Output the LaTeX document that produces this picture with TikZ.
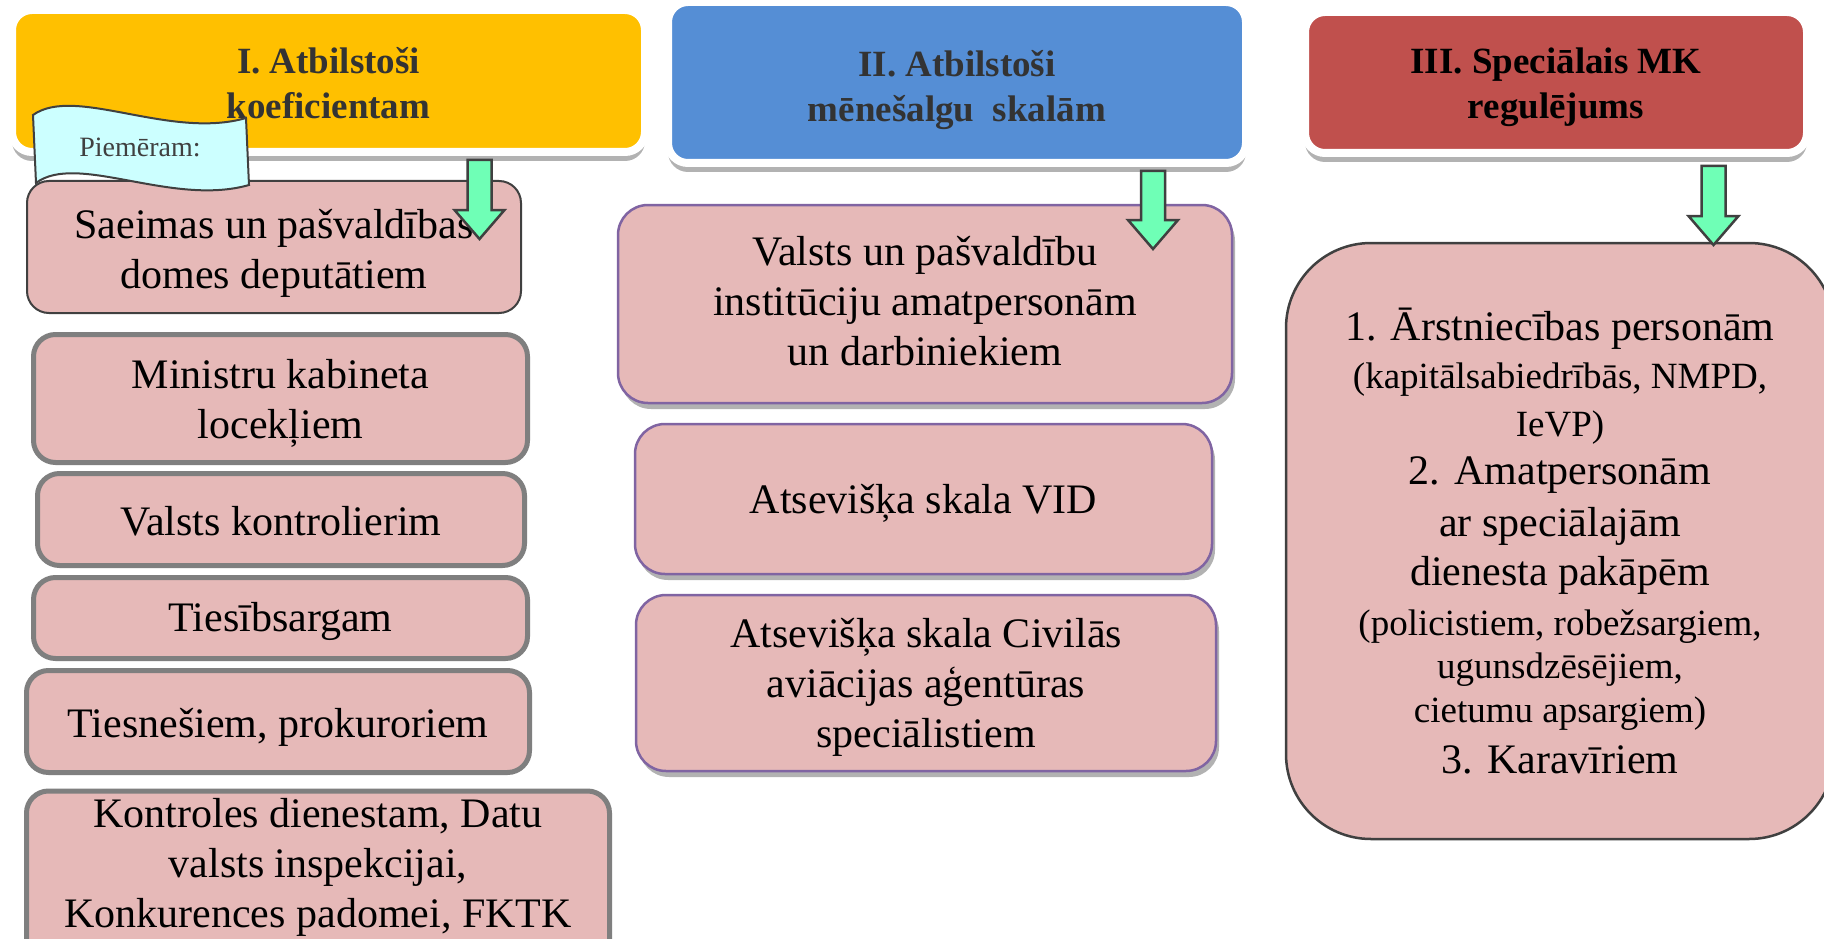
\documentclass[tikz,border=0pt]{standalone}
\usepackage{fontspec}
\setmainfont{Liberation Serif}
\usetikzlibrary{shadows,calc}

\definecolor{hdryellow}{HTML}{FFC000}
\definecolor{hdrblue}{HTML}{558ED5}
\definecolor{hdrred}{HTML}{C0504D}
\definecolor{boxpink}{HTML}{E6B9B8}
\definecolor{arrowgreen}{HTML}{6FFFB6}
\definecolor{flagcyan}{HTML}{CCFFFF}
\definecolor{midpurple}{HTML}{8064A2}
\definecolor{framegray}{HTML}{7F7F7F}
\definecolor{darkline}{HTML}{404040}
\definecolor{headtext}{HTML}{333333}

\newcommand{\bodyfont}{\fontsize{42}{50}\selectfont}
\newcommand{\smallbody}{\fontsize{37}{44}\selectfont}
\newcommand{\headfont}{\fontsize{37}{45}\selectfont\bfseries}

% green block arrow from a top point down to a tip
\newcommand{\greenarrow}[2]{%
  \filldraw[fill=arrowgreen, draw=darkline, line width=2.5pt, line join=miter]
    let \p1=(#1), \p2=(#2) in
    (\x1-12pt,\y1) -- (\x1+12pt,\y1) -- (\x1+12pt,\y2+29pt) -- (\x1+25pt,\y2+29pt)
    -- (\x2,\y2) -- (\x1-25pt,\y2+29pt) -- (\x1-12pt,\y2+29pt) -- cycle;}

\tikzset{
  header/.style={rectangle, rounded corners=20pt, draw=white, line width=8pt,
    inner sep=0pt, align=center, font=\headfont,
    drop shadow={shadow xshift=0pt, shadow yshift=-9pt, opacity=0.3, fill=black}},
  leftbox/.style={rectangle, rounded corners=22pt, fill=boxpink, draw=framegray,
    line width=5pt, inner sep=0pt, align=center, font=\bodyfont},
  topbox/.style={leftbox, draw=darkline, line width=2pt},
  midbox/.style={rectangle, rounded corners=30pt, fill=boxpink, draw=midpurple,
    line width=2.5pt, inner sep=0pt, align=center, font=\bodyfont,
    drop shadow={shadow xshift=3pt, shadow yshift=-6pt, opacity=0.3, fill=black}},
  bigbox/.style={rectangle, rounded corners=85pt, fill=boxpink, draw=darkline,
    line width=2.5pt, inner sep=0pt, align=center, font=\fontsize{42}{48}\selectfont}
}

\begin{document}
\begin{tikzpicture}[x=1pt, y=-1pt]
    \useasboundingbox (0,0) rectangle (1824,939);
    \clip (0,0) rectangle (1824,939);
    \fill[white] (0,0) rectangle (1824,939);

    % Headers
    \node[header, fill=hdryellow, text=headtext, minimum width=633pt, minimum height=142pt,
        text height=74.8pt] (hdrI) at (328.5,81) {I. Atbilstoši\\koeficientam};
    \node[header, fill=hdrblue, text=headtext, minimum width=578pt, minimum height=161pt,
        text height=86pt] (hdrII) at (957,82.5) {II. Atbilstoši\\mēnešalgu\ \ skalām};
    \node[header, fill=hdrred, text=black, minimum width=502pt, minimum height=141pt,
        text height=80.6pt] (hdrIII) at (1556,82.5) {III. Speciālais MK\\regulējums};

    % Left column
    \node[topbox, minimum width=494pt, minimum height=132pt, text height=92.7pt]
        (saeima) at (274,247) {Saeimas un pašvaldības\\domes deputātiem};
    \node[leftbox, minimum width=494pt, minimum height=128pt, text height=88.7pt]
        (ministri) at (280.5,398.5) {Ministru kabineta\\locekļiem};
    \node[leftbox, minimum width=487pt, minimum height=92pt, text height=32.7pt]
        (kontrolieris) at (281,519.5) {Valsts kontrolierim};
    \node[leftbox, minimum width=494pt, minimum height=81pt, text height=35.7pt]
        (tiesibsargs) at (280.5,618) {Tiesībsargam};
    \node[leftbox, minimum width=503pt, minimum height=102pt, text height=40.3pt]
        (tiesnesi) at (278,721.5) {Tiesnešiem, prokuroriem};
    \node[leftbox, anchor=north, minimum width=583pt, inner ysep=7.5pt, text depth=45pt]
        (kontrole) at (318,788.5) {Kontroles dienestam, Datu\\valsts inspekcijai,\\Konkurences padomei, FKTK};

    % Flag with example label
    \filldraw[fill=flagcyan, draw=darkline, line width=2pt]
        (33,115) .. controls (75,85) and (170,140) .. (246,118) -- (249,185)
        .. controls (172,207) and (77,152) .. (36,183) -- cycle;
    \node[anchor=base, text=darkline, font=\fontsize{28}{34}\selectfont]
        (piemeram) at (140,157) {Piemēram:};

    % Middle column
    \node[midbox, minimum width=614pt, minimum height=198pt, text depth=7pt]
        (amatpers) at (925,304) {Valsts un pašvaldību\\institūciju amatpersonām\\un darbiniekiem};
    \node[midbox, minimum width=577pt, minimum height=150pt, text height=38.5pt]
        (vid) at (923.5,499) {Atsevišķa skala VID};
    \node[midbox, minimum width=580pt, minimum height=176pt, text height=138pt]
        (caa) at (926,683) {Atsevišķa skala Civilās\\aviācijas aģentūras\\speciālistiem};

    % Right column
    \node[bigbox, minimum width=548pt, minimum height=596pt]
        (specMK) at (1560,541) {1. Ārstniecības personām\\
        {\smallbody (kapitālsabiedrībās, NMPD,}\\
        {\smallbody IeVP)}\\
        2. Amatpersonām\\[4pt]
        ar speciālajām\\[1pt]
        dienesta pakāpēm\\[2pt]
        {\smallbody (policistiem, robežsargiem,}\\[-5pt]
        {\smallbody ugunsdzēsējiem,}\\[-4pt]
        {\smallbody cietumu apsargiem)}\\[3pt]
        3. Karavīriem};

    % Arrows
    \coordinate (aItop) at (479.5,160);
    \coordinate (aItip) at (479.5,239);
    \coordinate (aIItop) at (1153,171);
    \coordinate (aIItip) at (1153,249);
    \coordinate (aIIItop) at (1713.5,166);
    \coordinate (aIIItip) at (1713.5,245);
    \greenarrow{aItop}{aItip}
    \greenarrow{aIItop}{aIItip}
    \greenarrow{aIIItop}{aIIItip}
\end{tikzpicture}
\end{document}
